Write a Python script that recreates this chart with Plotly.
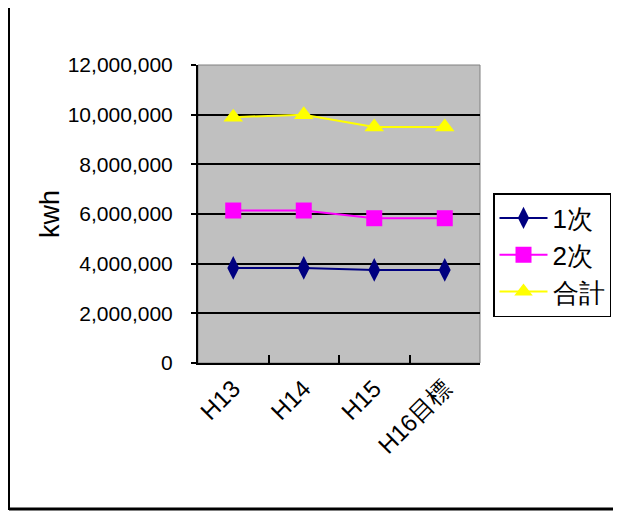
import plotly.graph_objects as go

categories = ["H13", "H14", "H15", "H16目標"]
primary = [3830000, 3830000, 3750000, 3750000]
secondary = [6140000, 6140000, 5830000, 5830000]
total = [9900000, 10000000, 9500000, 9500000]
y_ticks = [0, 2000000, 4000000, 6000000, 8000000, 10000000, 12000000]
y_tick_labels = ["0", "2,000,000", "4,000,000", "6,000,000", "8,000,000", "10,000,000", "12,000,000"]

FONT = "Liberation Sans Narrow, Arial Narrow, Liberation Sans, Arial"

W, H = 613, 504
L, R, T, B = 190, 141, 57, 149
PW, PH = W - L - R, H - T - B

fig = go.Figure()
fig.add_trace(go.Scatter(x=categories, y=primary, name="1次", mode="lines+markers",
                         line=dict(color="#000080", width=2),
                         marker=dict(symbol="diamond-tall", size=17, color="#000080")))
fig.add_trace(go.Scatter(x=categories, y=secondary, name="2次", mode="lines+markers",
                         line=dict(color="#FF00FF", width=2),
                         marker=dict(symbol="square", size=16, color="#FF00FF")))
fig.add_trace(go.Scatter(x=categories, y=total, name="合計", mode="lines+markers",
                         line=dict(color="#FFFF00", width=2),
                         marker=dict(symbol="triangle-up", size=17, color="#FFFF00")))

fig.update_layout(
    width=W, height=H,
    margin=dict(l=L, r=R, t=T, b=B, autoexpand=False),
    paper_bgcolor="white",
    plot_bgcolor="#C0C0C0",
    font=dict(family=FONT, size=22, color="black"),
    showlegend=True,
    legend=dict(x=(493 - 198) / PW, y=(363 - 193) / PH, xanchor="left", yanchor="top",
                bordercolor="black", borderwidth=1.5, bgcolor="white",
                font=dict(family=FONT, size=26), tracegroupgap=0,
                itemwidth=48),
)
fig.update_xaxes(
    type="category", range=[-0.5, 3.5],
    showline=True, linecolor="black", linewidth=2,
    ticks="inside", ticklen=8, tickwidth=1.5, tickcolor="black",
    tickson="boundaries", tickangle=-45,
    showgrid=False, zeroline=False,
    tickfont=dict(family=FONT, size=24),
)
fig.update_yaxes(
    range=[0, 12000000],
    tickvals=y_ticks, ticktext=y_tick_labels,
    showline=True, linecolor="black", linewidth=2,
    ticks="outside", ticklen=5, tickwidth=1.5, tickcolor="black",
    ticklabelstandoff=14,
    showgrid=True, gridcolor="black", gridwidth=2,
    zeroline=False,
    title=dict(text="kwh", font=dict(family=FONT, size=27), standoff=0),
    tickfont=dict(family=FONT, size=21),
)
# frame lines of the chart area
fig.add_shape(type="line", xref="paper", yref="paper", x0=(-L + 1) / PW, x1=(-L + 1) / PW,
              y0=-147 / PH, y1=1 + T / PH, line=dict(color="black", width=2))
fig.add_shape(type="line", xref="paper", yref="paper", x0=(-L + 1) / PW, x1=(W - L) / PW,
              y0=-146 / PH, y1=-146 / PH, line=dict(color="black", width=3))
fig.add_shape(type="rect", xref="paper", yref="paper", x0=0, x1=1, y0=0, y1=1,
              line=dict(color="#808080", width=1), layer="below")

fig.write_html("out.html")
